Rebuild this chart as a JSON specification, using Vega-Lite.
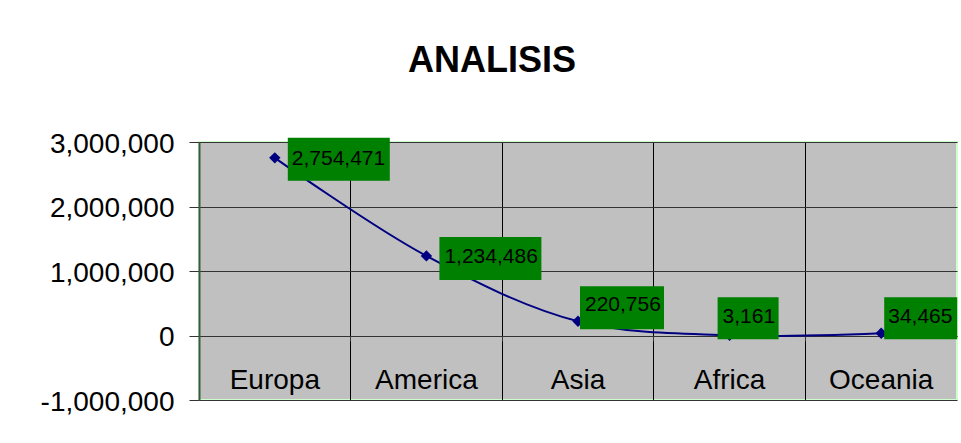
{
  "$schema": "https://vega.github.io/schema/vega-lite/v6.json",
  "width": 758,
  "height": 258,
  "padding": {"left": 40, "top": 43, "right": 3, "bottom": 0},
  "background": "#ffffff",
  "title": {
    "text": "ANALISIS",
    "fontSize": 36,
    "fontWeight": "bold",
    "font": "Liberation Sans",
    "color": "#000000",
    "anchor": "middle",
    "dx": -86,
    "offset": 50
  },
  "data": {
    "values": [
      {"continent": "Europa", "value": 2754471},
      {"continent": "America", "value": 1234486},
      {"continent": "Asia", "value": 220756},
      {"continent": "Africa", "value": 3161},
      {"continent": "Oceania", "value": 34465}
    ]
  },
  "encoding": {
    "x": {
      "field": "continent",
      "type": "nominal",
      "sort": null,
      "title": null,
      "scale": {"paddingInner": 0, "paddingOuter": 0},
      "axis": {
        "orient": "bottom",
        "offset": -64,
        "bandPosition": 0,
        "grid": true,
        "gridColor": "#000000",
        "gridOpacity": 1,
        "domainColor": "#333333",
        "tickColor": "#333333",
        "tickSize": 5,
        "labelAngle": 0,
        "labelFontSize": 28,
        "labelPadding": 25,
        "labelColor": "#000000"
      }
    },
    "y": {
      "field": "value",
      "type": "quantitative",
      "title": null,
      "scale": {"domain": [-1000000, 3000000], "nice": false, "zero": false},
      "axis": {
        "values": [-1000000, 0, 1000000, 2000000, 3000000],
        "format": ",d",
        "grid": true,
        "gridColor": "#333333",
        "gridOpacity": 1,
        "domainColor": "#3c5a3c",
        "domainWidth": 2,
        "tickColor": "#333333",
        "tickSize": 10,
        "labelFontSize": 28,
        "labelPadding": 15,
        "labelOffset": 2,
        "labelColor": "#000000"
      }
    }
  },
  "layer": [
    {
      "mark": {
        "type": "line",
        "interpolate": "catmull-rom",
        "color": "#000080",
        "strokeWidth": 2,
        "point": {"shape": "diamond", "size": 130, "filled": true, "color": "#000080"}
      }
    },
    {
      "transform": [{"filter": "datum.continent === 'Europa'"}],
      "layer": [
        {"mark": {"type": "rect", "color": "#008000", "width": 102, "xOffset": 64, "yOffset": -20, "y2Offset": 23}, "encoding": {"y2": {"field": "value"}}},
        {"mark": {"type": "text", "align": "left", "baseline": "alphabetic", "dx": 17, "dy": 7, "fontSize": 21, "color": "#000000"}, "encoding": {"text": {"field": "value", "type": "quantitative", "format": ","}}}
      ]
    },
    {
      "transform": [{"filter": "datum.continent === 'America'"}],
      "layer": [
        {"mark": {"type": "rect", "color": "#008000", "width": 102, "xOffset": 64, "yOffset": -19, "y2Offset": 24}, "encoding": {"y2": {"field": "value"}}},
        {"mark": {"type": "text", "align": "left", "baseline": "alphabetic", "dx": 18, "dy": 7, "fontSize": 21, "color": "#000000"}, "encoding": {"text": {"field": "value", "type": "quantitative", "format": ","}}}
      ]
    },
    {
      "transform": [{"filter": "datum.continent === 'Asia'"}],
      "layer": [
        {"mark": {"type": "rect", "color": "#008000", "width": 84, "xOffset": 44, "yOffset": -35, "y2Offset": 8}, "encoding": {"y2": {"field": "value"}}},
        {"mark": {"type": "text", "align": "left", "baseline": "alphabetic", "dx": 7, "dy": -10.5, "fontSize": 21, "color": "#000000"}, "encoding": {"text": {"field": "value", "type": "quantitative", "format": ","}}}
      ]
    },
    {
      "transform": [{"filter": "datum.continent === 'Africa'"}],
      "layer": [
        {"mark": {"type": "rect", "color": "#008000", "width": 61, "xOffset": 18.5, "yOffset": -38, "y2Offset": 4}, "encoding": {"y2": {"field": "value"}}},
        {"mark": {"type": "text", "align": "left", "baseline": "alphabetic", "dx": -7, "dy": -12.6, "fontSize": 21, "color": "#000000"}, "encoding": {"text": {"field": "value", "type": "quantitative", "format": ","}}}
      ]
    },
    {
      "transform": [{"filter": "datum.continent === 'Oceania'"}],
      "layer": [
        {"mark": {"type": "rect", "color": "#008000", "width": 73, "xOffset": 39.5, "yOffset": -36, "y2Offset": 6}, "encoding": {"y2": {"field": "value"}}},
        {"mark": {"type": "text", "align": "left", "baseline": "alphabetic", "dx": 7, "dy": -10.6, "fontSize": 21, "color": "#000000"}, "encoding": {"text": {"field": "value", "type": "quantitative", "format": ","}}}
      ]
    }
  ],
  "config": {
    "font": "Liberation Sans",
    "locale": {
      "number": {"decimal": ".", "thousands": ",", "grouping": [3], "currency": ["$", ""], "minus": "-"}
    },
    "view": {"fill": "#c0c0c0", "stroke": "#ccffcc", "strokeWidth": 2}
  }
}
